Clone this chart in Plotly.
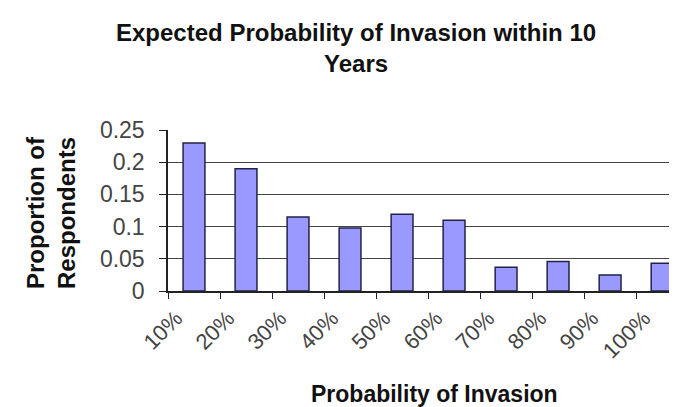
import plotly.graph_objects as go

categories = ["10%", "20%", "30%", "40%", "50%", "60%", "70%", "80%", "90%", "100%"]
proportions = [0.230, 0.190, 0.115, 0.098, 0.119, 0.110, 0.037, 0.046, 0.025, 0.043]
y_ticks = [0, 0.05, 0.1, 0.15, 0.2, 0.25]
y_tick_labels = ["0", "0.05", "0.1", "0.15", "0.2", "0.25"]

FONT = "Liberation Sans, Arial, sans-serif"
L, T, PW, PH = 160, 122, 517, 161

fig = go.Figure(go.Bar(
    x=categories,
    y=proportions,
    width=0.42,
    marker=dict(color="#9999FF", line=dict(color="#22224a", width=1.5)),
))

fig.update_layout(
    width=677, height=407,
    margin=dict(l=L, r=677 - L - PW, t=T, b=407 - T - PH, autoexpand=False),
    paper_bgcolor="white", plot_bgcolor="white",
    showlegend=False,
    annotations=[
        dict(text="<b>Expected Probability of Invasion within 10<br>Years</b>",
             xref="paper", yref="paper", x=(348 - L) / PW, y=1, yshift=T - 40,
             xanchor="center", yanchor="middle", showarrow=False,
             font=dict(family=FONT, size=24, color="#111111")),
        dict(text="<b>Probability of Invasion</b>", xref="paper", yref="paper",
             x=(426 - L) / PW, y=0, yshift=-(386 - T - PH), xanchor="center", yanchor="middle",
             showarrow=False, font=dict(family=FONT, size=23, color="#111111")),
        dict(text="<b>Proportion of<br>Respondents</b>", xref="paper", yref="paper",
             x=0, xshift=43 - L, y=0.5, yshift=(T + PH / 2) - 205, xanchor="center", yanchor="middle",
             textangle=-90, showarrow=False,
             font=dict(family=FONT, size=24, color="#111111")),
    ],
)

fig.update_xaxes(
    type="category", range=[-0.5, 9.44], automargin=False,
    tickangle=-45, tickfont=dict(family=FONT, size=22, color="#444444"),
    ticks="outside", tickson="boundaries", ticklen=6, tickcolor="#222222",
    ticklabelshift=-18, ticklabelstandoff=4,
    showline=True, linecolor="#222222", linewidth=1.5,
    showgrid=False,
)
fig.update_yaxes(
    range=[0, 0.25], tickvals=y_ticks, ticktext=y_tick_labels, automargin=False,
    tickfont=dict(family=FONT, size=23, color="#444444"),
    ticks="outside", ticklen=7, tickcolor="#222222", ticklabelstandoff=10,
    showline=True, linecolor="#222222", linewidth=1.5,
    showgrid=True, gridcolor="#444444", gridwidth=1.2,
    zeroline=False,
)

fig.write_html("out.html")
